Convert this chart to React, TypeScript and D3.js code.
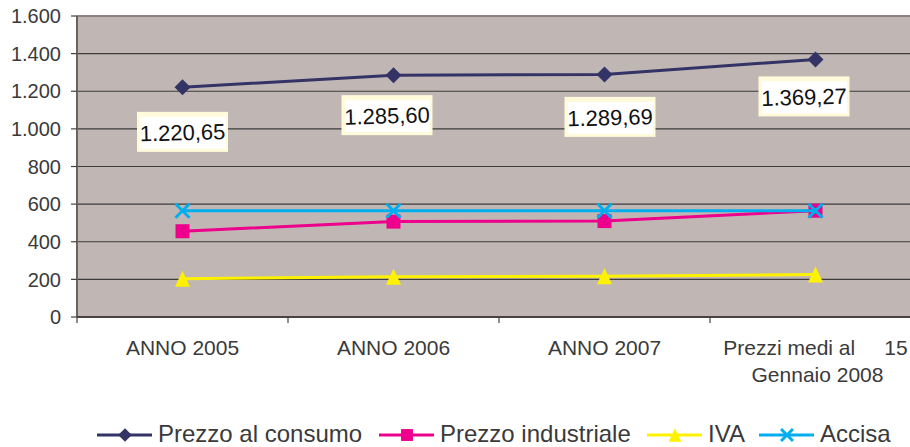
import React from "react";
import * as d3 from "d3";

const categories = ["ANNO 2005", "ANNO 2006", "ANNO 2007", "Prezzi medi al     15\nGennaio 2008"];
const prezzoConsumo = [1220.65, 1285.6, 1289.69, 1369.27];
const prezzoIndustriale = [456, 507, 510, 565];
const iva = [203, 214, 216, 226];
const accisa = [565, 565, 565, 565];
const yTicks = [0, 200, 400, 600, 800, 1000, 1200, 1400, 1600];
const labelTexts = ["1.220,65", "1.285,60", "1.289,69", "1.369,27"];

const W = 910;
const H = 447;
const FONT = "'Liberation Sans', Arial, sans-serif";
const TEXT = "#3a3a3a";

const series = [
  { name: "Prezzo al consumo", values: prezzoConsumo, color: "#333366", marker: "diamond" },
  { name: "Prezzo industriale", values: prezzoIndustriale, color: "#EC008C", marker: "square" },
  { name: "IVA", values: iva, color: "#FFF200", marker: "triangle" },
  { name: "Accisa", values: accisa, color: "#00AEEF", marker: "x" },
];

// label box offsets relative to their point (layout)
const labelDx = [0, -6.5, 5.5, -11.5];
const labelDy = [44.5, 40, 42.5, 37];
const legendX = [97, 379, 647, 759];

function Marker({ type, x, y, color, s = 1 }: { type: string; x: number; y: number; color: string; s?: number }) {
  if (type === "diamond") {
    const r = 8 * s;
    return <path d={`M${x},${y - r}L${x + r},${y}L${x},${y + r}L${x - r},${y}Z`} fill={color} />;
  }
  if (type === "square") {
    const r = 7 * s;
    return <rect x={x - r} y={y - r} width={2 * r} height={2 * r} fill={color} />;
  }
  if (type === "triangle") {
    const w = 7.5 * s;
    const h = 8 * s;
    return <path d={`M${x},${y - h}L${x + w},${y + h}L${x - w},${y + h}Z`} fill={color} />;
  }
  const r = 7 * s;
  return (
    <g stroke={color} strokeWidth={3}>
      <line x1={x - r} y1={y - r} x2={x + r} y2={y + r} />
      <line x1={x - r} y1={y + r} x2={x + r} y2={y - r} />
    </g>
  );
}

export default function App() {
  const left = 77;
  const band = 211;
  const x = d3
    .scaleBand<string>()
    .domain(categories)
    .range([left, left + band * categories.length])
    .paddingInner(0)
    .paddingOuter(0);
  const y = d3.scaleLinear().domain([0, 1600]).range([317, 16]);
  const cx = (c: string) => (x(c) as number) + x.bandwidth() / 2;
  const line = d3
    .line<number>()
    .x((_, i) => cx(categories[i]))
    .y((v) => y(v));

  const tickEdges = categories.map((c) => x(c) as number);

  return (
    <svg width={W} height={H} style={{ position: "absolute", left: 0, top: 0 }} fontFamily={FONT}>
      <rect x={0} y={0} width={W} height={H} fill="#fff" />
      {/* plot area */}
      <rect x={left} y={y(1600)} width={W - left} height={y(0) - y(1600)} fill="#C0B7B4" />
      {yTicks.map((t) =>
        t > 0 && t < 1600 ? (
          <line key={t} x1={left} x2={W} y1={y(t)} y2={y(t)} stroke="#3c3c3c" strokeWidth={1.2} />
        ) : null
      )}
      <line x1={left} x2={W} y1={y(1600)} y2={y(1600)} stroke="#8a8282" strokeWidth={2} />
      <line x1={left} x2={left} y1={y(1600)} y2={y(0)} stroke="#6b6262" strokeWidth={2} />
      <line x1={left} x2={W} y1={y(0)} y2={y(0)} stroke="#4a4242" strokeWidth={2} />
      {/* y ticks */}
      {yTicks.map((t) => (
        <g key={t}>
          <line x1={left - 6} x2={left} y1={y(t)} y2={y(t)} stroke="#4a4242" strokeWidth={1.2} />
          <text x={61} y={y(t)} dy="0.36em" textAnchor="end" fontSize={20} fill={TEXT}>
            {d3.format(",")(t).replace(/,/g, ".")}
          </text>
        </g>
      ))}
      {/* x ticks */}
      {tickEdges.map((e, i) => (
        <line key={i} x1={e} x2={e} y1={y(0)} y2={y(0) + 6} stroke="#4a4242" strokeWidth={1.2} />
      ))}
      {categories.map((c) => {
        const lines = c.split("\n");
        return (
          <text key={c} x={cx(c)} y={355} textAnchor="middle" fontSize={21} fill={TEXT} style={{ whiteSpace: "pre" }}>
            {lines.map((l, i) => (
              <tspan key={i} x={cx(c) + (i === 0 ? 0 : 2)} dy={i === 0 ? 0 : 27}>
                {l}
              </tspan>
            ))}
          </text>
        );
      })}
      {/* series */}
      {series.map((s) => (
        <g key={s.name}>
          <path d={line(s.values) || ""} fill="none" stroke={s.color} strokeWidth={3} />
          {s.values.map((v, i) => (
            <Marker key={i} type={s.marker} x={cx(categories[i])} y={y(v)} color={s.color} />
          ))}
        </g>
      ))}
      {/* data labels */}
      {prezzoConsumo.map((v, i) => {
        const lx = cx(categories[i]) + labelDx[i];
        const ly = y(v) + labelDy[i];
        return (
          <g key={i} transform={`translate(${lx},${ly})`}>
            <rect x={-45.5} y={-20} width={91} height={40} fill="#FFFBDA" />
            <rect x={-42} y={-15} width={85} height={32} fill="#ffffff" />
            <text x={0} y={0} dy="0.38em" textAnchor="middle" fontSize={22} fill="#111" transform="rotate(-1.5)">
              {labelTexts[i]}
            </text>
          </g>
        );
      })}
      {/* legend */}
      {series.map((s, i) => {
        const x0 = legendX[i];
        const ly = 435;
        return (
          <g key={s.name}>
            <line x1={x0} x2={x0 + 55} y1={ly} y2={ly} stroke={s.color} strokeWidth={3} />
            <Marker type={s.marker} x={x0 + 28} y={ly} color={s.color} s={0.85} />
            <text x={x0 + 61} y={441.5} fontSize={24} fill={TEXT}>
              {s.name}
            </text>
          </g>
        );
      })}
    </svg>
  );
}
